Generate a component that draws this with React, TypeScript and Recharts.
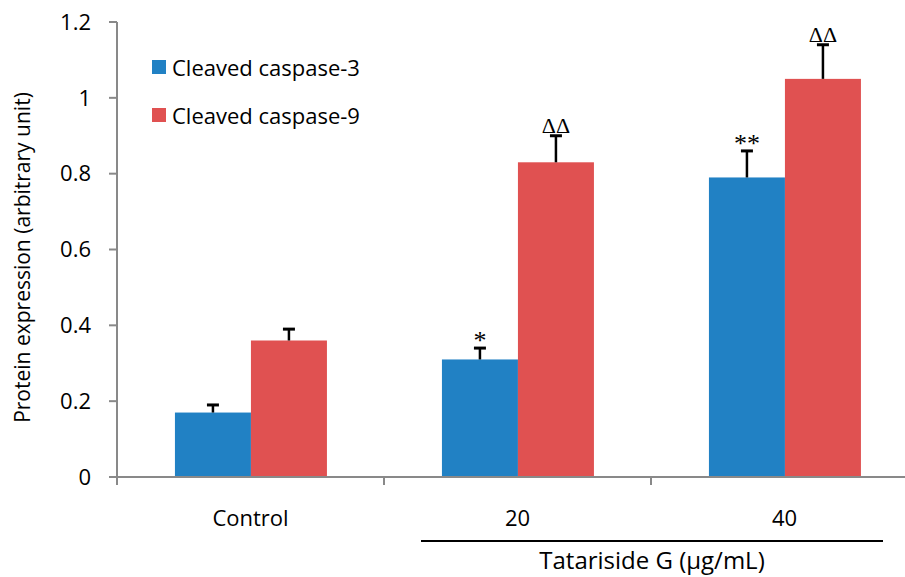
import React from 'react'
import { BarChart, Bar, XAxis, YAxis, Legend } from 'recharts'

const groups = ['Control', '20', '40']
const caspase3 = [0.17, 0.31, 0.79]
const caspase3Err = [0.02, 0.03, 0.07]
const caspase3Sig = ['', '*', '**']
const caspase9 = [0.36, 0.83, 1.05]
const caspase9Err = [0.03, 0.07, 0.09]
const caspase9Sig = ['', 'ΔΔ', 'ΔΔ']
const yTicks = [0, 0.2, 0.4, 0.6, 0.8, 1, 1.2]

const rows = groups.map((group, i) => ({
  group,
  c3: caspase3[i],
  c3Err: caspase3Err[i],
  c3Sig: caspase3Sig[i],
  c9: caspase9[i],
  c9Err: caspase9Err[i],
  c9Sig: caspase9Sig[i],
}))

const FONT = "'Open Sans', sans-serif"
const SERIF = "'Liberation Serif', 'Times New Roman', serif"
const AXIS = '#898989'
const BLUE = '#2181C4'
const RED = '#E05151'
const X_TICK_GAP = 33
const X_TICK_LEN = 8

// bar plus an upward-only error bar and its significance mark
const barWithError = (valueKey: string, errKey: string, sigKey: string) => (props: any) => {
  const { x, y, width, height, fill, payload } = props
  const v = payload[valueKey]
  const perUnit = v ? height / v : 0
  const errTop = y - payload[errKey] * perUnit
  const cx = x + width / 2
  const sig: string = payload[sigKey]
  const isStar = sig.includes('*')
  return (
    <g>
      <rect x={x} y={y} width={width} height={height} fill={fill} />
      <line x1={cx} x2={cx} y1={y} y2={errTop} stroke="#000" strokeWidth={2.5} />
      <line x1={cx - 6} x2={cx + 6} y1={errTop} y2={errTop} stroke="#000" strokeWidth={3} />
      {sig && (
        <text
          x={cx}
          y={isStar ? errTop + 1 : errTop - 3}
          textAnchor="middle"
          fontFamily={SERIF}
          fontSize={isStar ? 26 : 22}
          fill="#000"
        >
          {sig}
        </text>
      )}
    </g>
  )
}

// category label in the middle, tick mark on the left boundary of each group
const GroupTick = (props: any) => {
  const { x, y, payload, width, visibleTicksCount, index } = props
  const band = width && visibleTicksCount ? width / visibleTicksCount : 267
  const axisY = y - X_TICK_GAP
  const edges = [x - band / 2]
  if (index === visibleTicksCount - 1) edges.push(x + band / 2)
  return (
    <g>
      {edges.map((ex) => (
        <line key={ex} x1={ex} x2={ex} y1={axisY} y2={axisY + X_TICK_LEN} stroke={AXIS} strokeWidth={2} />
      ))}
      <text x={x} y={y} dy="0.71em" textAnchor="middle" fontFamily={FONT} fontSize={22} fill="#000">
        {payload.value}
      </text>
    </g>
  )
}

const renderLegend = ({ payload }: any) => (
  <div style={{ fontFamily: FONT, fontSize: 22, color: '#000' }}>
    {(payload || []).map((entry: any) => (
      <div key={entry.value} style={{ display: 'flex', alignItems: 'center', height: 48 }}>
        <span style={{ width: 14, height: 14, background: entry.color, marginRight: 6 }} />
        <span>{entry.value}</span>
      </div>
    ))}
  </div>
)

const renderYLabel = (props: any) => {
  const vb = props.viewBox || {}
  const x = (vb.x ?? 0) + 22
  const y = (vb.y ?? 0) + (vb.height ?? 0) / 2 + 8
  return (
    <text
      x={x}
      y={y}
      transform={`rotate(-90, ${x}, ${y})`}
      textAnchor="middle"
      dominantBaseline="central"
      fontFamily={FONT}
      fontSize={21}
      fill="#000"
    >
      Protein expression (arbitrary unit)
    </text>
  )
}

export default function App() {
  return (
    <div
      style={{
        position: 'absolute',
        left: 0,
        top: 0,
        width: 905,
        height: 577,
        overflow: 'hidden',
        background: '#fff',
      }}
    >
      <BarChart
        width={930}
        height={577}
        data={rows}
        margin={{ top: 22, right: 12, bottom: 0, left: 0 }}
        barCategoryGap="21.7%"
        barGap={0}
      >
        <XAxis
          dataKey="group"
          height={100}
          tickLine={false}
          tickSize={0}
          tickMargin={X_TICK_GAP}
          axisLine={{ stroke: AXIS, strokeWidth: 2 }}
          tick={<GroupTick />}
        />
        <YAxis
          domain={[0, 1.2]}
          ticks={yTicks}
          width={117}
          tickSize={8}
          tickMargin={18}
          axisLine={{ stroke: AXIS, strokeWidth: 2 }}
          tickLine={{ stroke: AXIS, strokeWidth: 2 }}
          tick={{ fill: '#000', fontSize: 22, fontFamily: FONT }}
          label={renderYLabel}
        />
        <Legend
          layout="vertical"
          align="center"
          verticalAlign="middle"
          content={renderLegend}
          wrapperStyle={{ left: 152, top: 43, width: 'auto', height: 'auto' }}
        />
        <Bar
          dataKey="c3"
          name="Cleaved caspase-3"
          fill={BLUE}
          isAnimationActive={false}
          shape={barWithError('c3', 'c3Err', 'c3Sig')}
        />
        <Bar
          dataKey="c9"
          name="Cleaved caspase-9"
          fill={RED}
          isAnimationActive={false}
          shape={barWithError('c9', 'c9Err', 'c9Sig')}
        />
      </BarChart>
      <div
        style={{
          position: 'absolute',
          left: 421,
          top: 540,
          width: 462,
          borderTop: '2px solid #000',
        }}
      />
      <div
        style={{
          position: 'absolute',
          left: 421,
          top: 548,
          width: 462,
          textAlign: 'center',
          fontFamily: FONT,
          fontSize: 24,
          lineHeight: 1,
          color: '#000',
        }}
      >
        Tatariside G (μg/mL)
      </div>
    </div>
  )
}
